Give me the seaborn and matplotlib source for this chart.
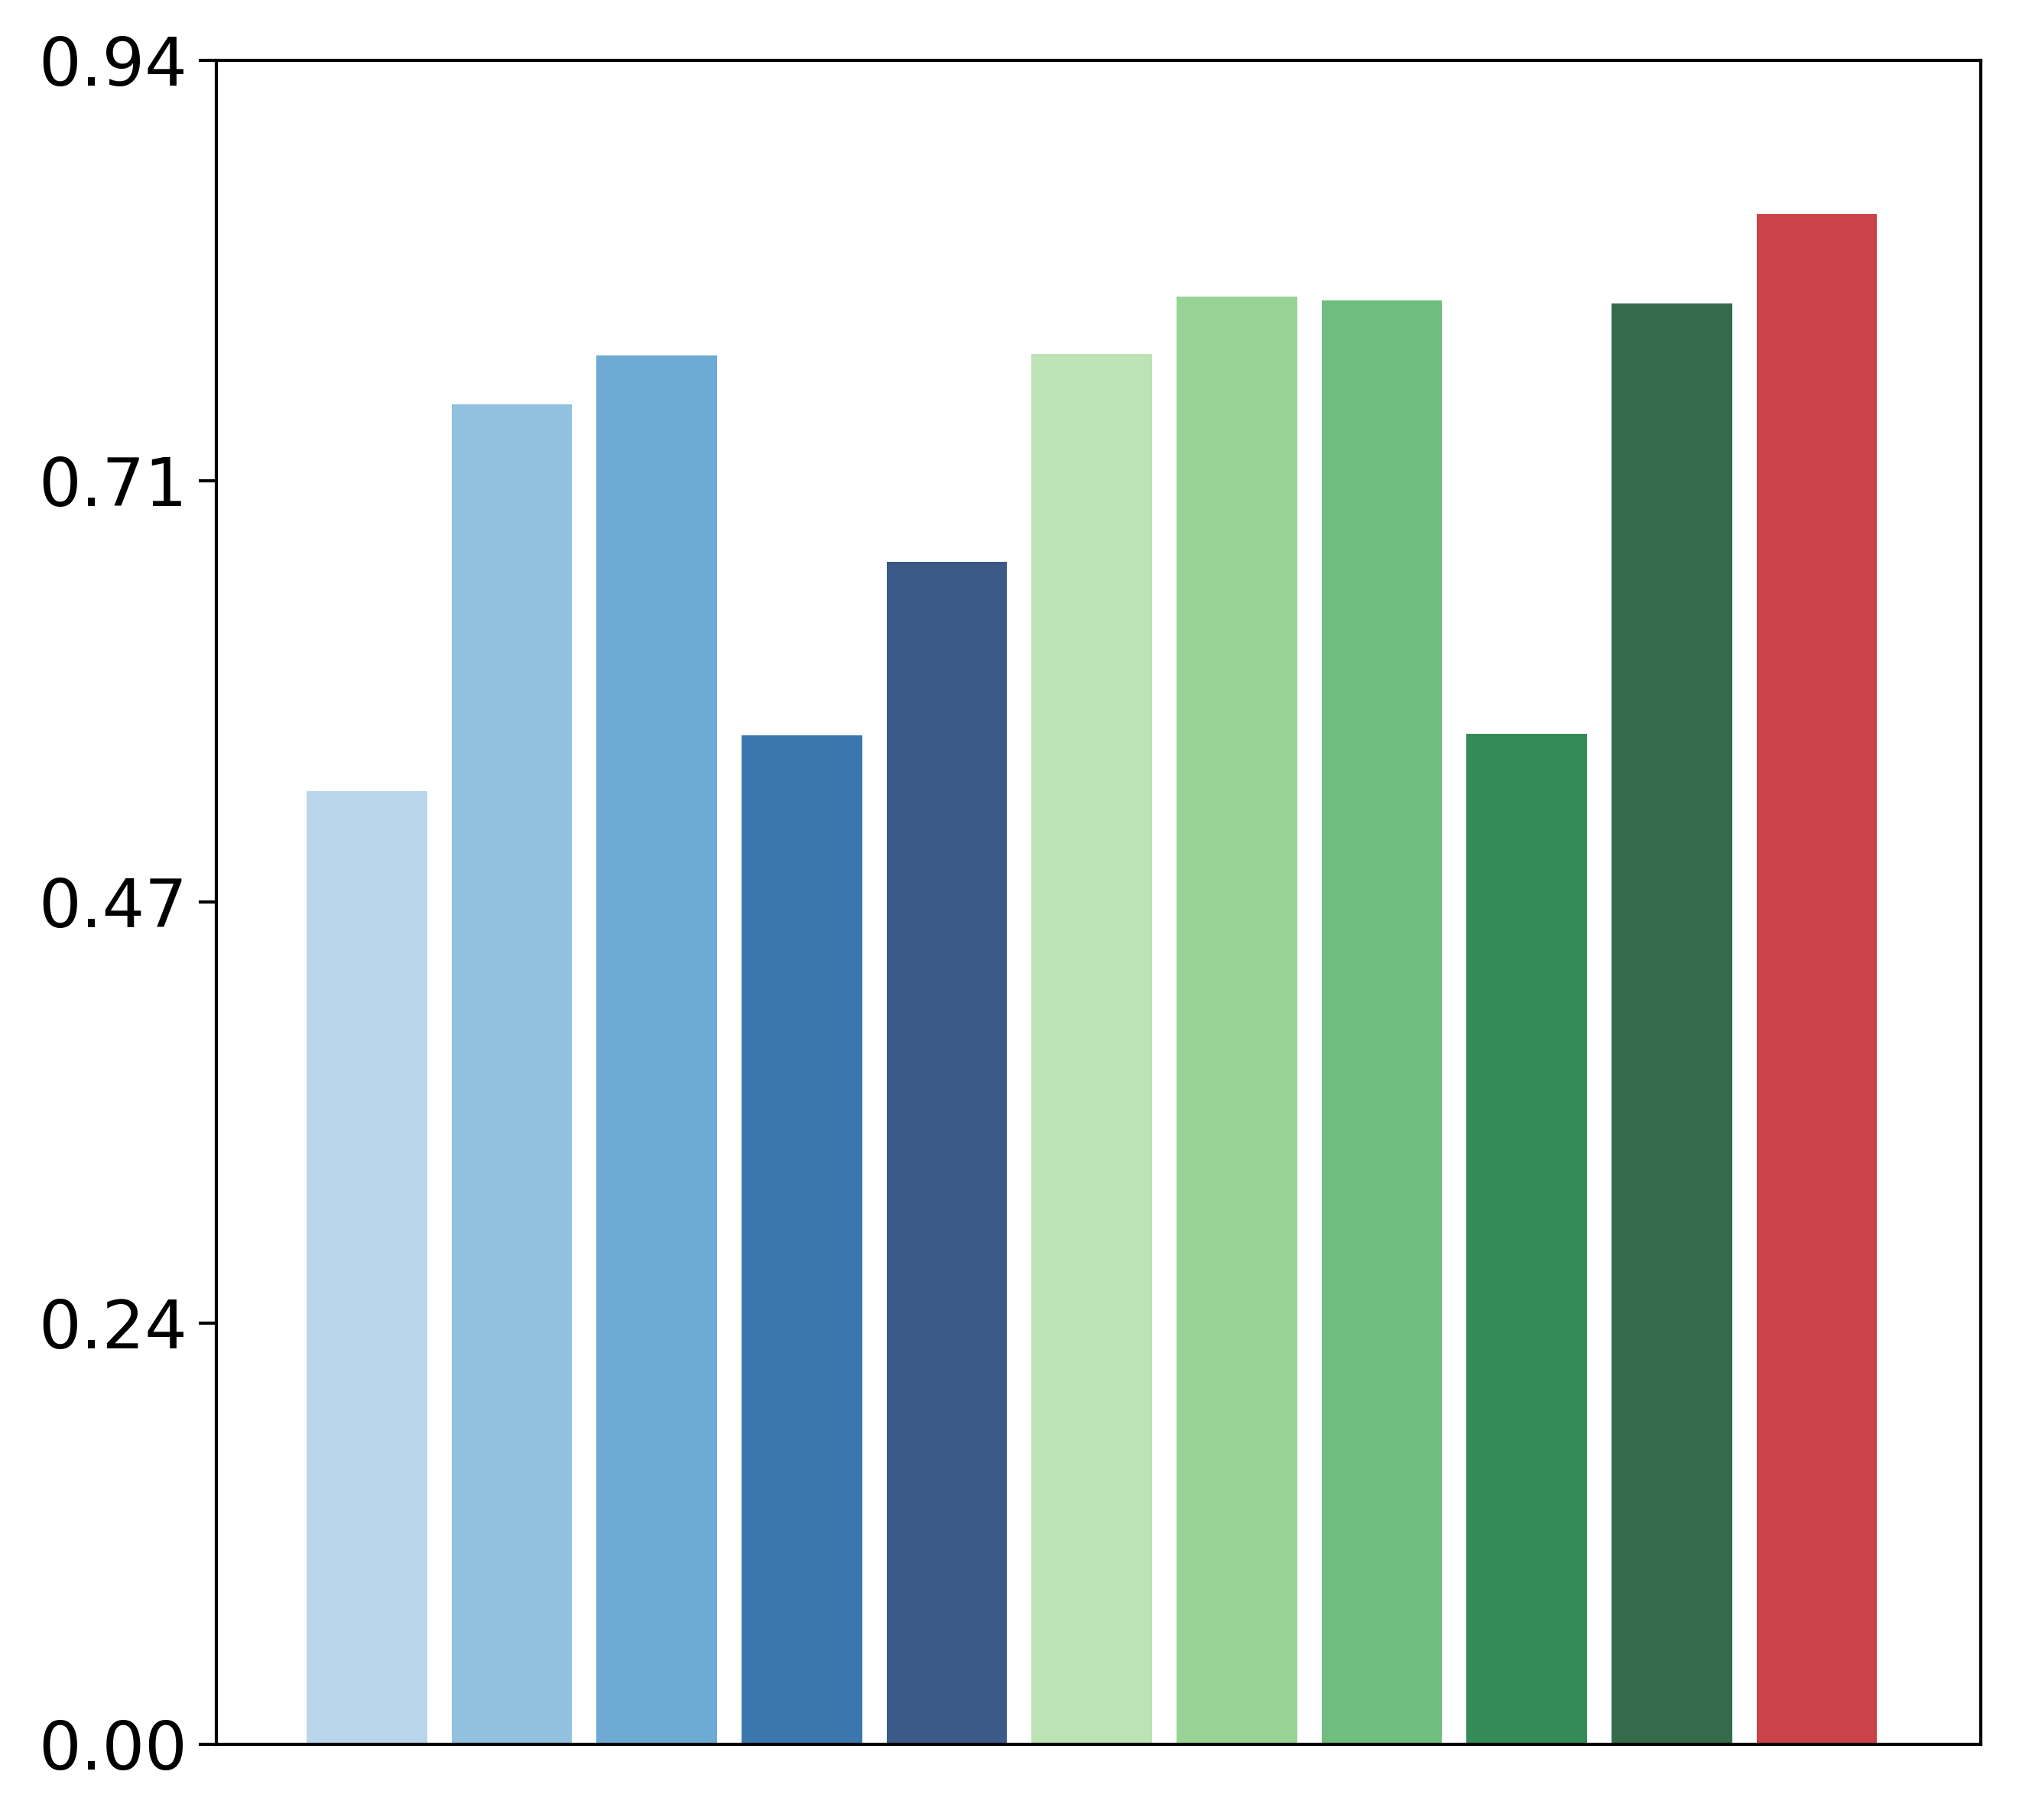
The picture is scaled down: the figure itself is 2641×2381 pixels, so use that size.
import matplotlib
matplotlib.use("Agg")
import matplotlib.pyplot as plt
import seaborn as sns
import pandas as pd
import numpy as np

categories = [f"c{i}" for i in range(1, 12)]
values = [0.532, 0.748, 0.775, 0.563, 0.660, 0.776, 0.808, 0.806, 0.564, 0.804, 0.854]
colors = ["#b9d6ea", "#92c1df", "#6daad4", "#3c76af", "#3b5a88",
          "#bbe3b4", "#98d396", "#6fbe7f", "#358b58", "#336b4b", "#cc4249"]
yticks = [0.0, 0.235, 0.47, 0.705, 0.94]
ytick_labels = ["0.00", "0.24", "0.47", "0.71", "0.94"]

sns.set_style("ticks")
plt.rcParams['font.family'] = ['DejaVu Sans']

df = pd.DataFrame({"cat": categories, "val": values})

fig = plt.figure(figsize=(2641/300, 2381/300), dpi=300)
ax = fig.add_axes([0.107, 0.0416, 0.874, 0.9254])
sns.barplot(data=df, x="cat", y="val", hue="cat", palette=colors, legend=False,
            width=0.83, saturation=1, ax=ax, linewidth=0)
ax.set_xlim(-1.04, 11.13)
ax.set_ylim(0, 0.94)
ax.set_yticks(yticks)
ax.set_yticklabels(ytick_labels, fontsize=21, color="black")
ax.set_xticks([])
ax.set_xlabel("")
ax.set_ylabel("")
for s in ax.spines.values():
    s.set_visible(True)
    s.set_linewidth(1.0)
    s.set_color("black")
ax.tick_params(axis='y', length=5.5, width=1.0, color="black", labelcolor="black")
fig.savefig("out.png", dpi=300)
